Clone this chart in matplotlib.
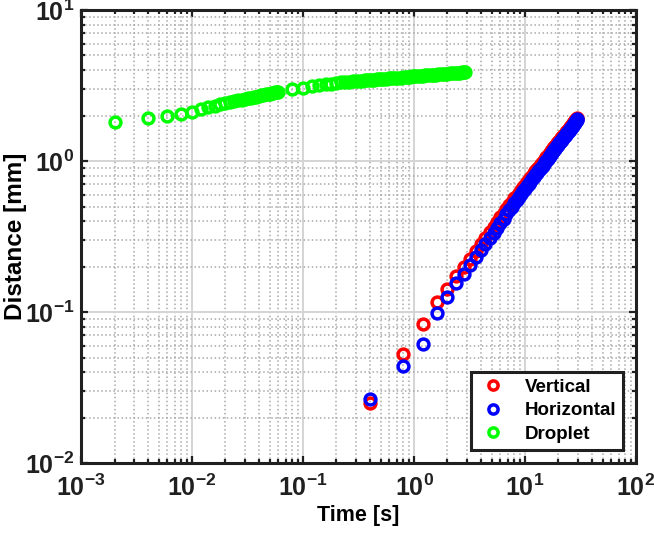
import matplotlib
matplotlib.use('Agg')
import matplotlib.pyplot as plt
import numpy as np

plt.rcParams['font.family'] = ['Liberation Sans', 'DejaVu Sans']
plt.rcParams['font.weight'] = 'bold'
plt.rcParams['mathtext.fontset'] = 'custom'
plt.rcParams['mathtext.rm'] = 'Liberation Sans:bold'
plt.rcParams['mathtext.it'] = 'Liberation Sans:bold'
plt.rcParams['mathtext.bf'] = 'Liberation Sans:bold'

# vertical / horizontal travel, sampled every 0.4 s
t_vh = [0.4, 0.8, 1.2, 1.6, 2.0, 2.4, 2.8, 3.2, 3.6, 4.0, 4.4, 4.8, 5.2, 5.6, 6.0,
        6.4, 6.8, 7.2, 7.6, 8.0, 8.4, 8.8, 9.2, 9.6, 10.0, 10.4, 10.8, 11.2, 11.6,
        12.0, 12.4, 12.8, 13.2, 13.6, 14.0, 14.4, 14.8, 15.2, 15.6, 16.0, 16.4,
        16.8, 17.2, 17.6, 18.0, 18.4, 18.8, 19.2, 19.6, 20.0, 20.4, 20.8, 21.2,
        21.6, 22.0, 22.4, 22.8, 23.2, 23.6, 24.0, 24.4, 24.8, 25.2, 25.6, 26.0,
        26.4, 26.8, 27.2, 27.6, 28.0, 28.4, 28.8, 29.2, 29.6]
vertical = [0.025, 0.053, 0.084, 0.116, 0.142, 0.173, 0.199, 0.226, 0.253, 0.281,
            0.309, 0.338, 0.367, 0.396, 0.425, 0.453, 0.481, 0.509, 0.537, 0.565,
            0.591, 0.618, 0.644, 0.671, 0.697, 0.723, 0.749, 0.775, 0.801, 0.827,
            0.853, 0.879, 0.905, 0.930, 0.956, 0.982, 1.007, 1.033, 1.058, 1.084,
            1.109, 1.135, 1.160, 1.185, 1.211, 1.236, 1.261, 1.286, 1.312, 1.337,
            1.362, 1.387, 1.412, 1.437, 1.462, 1.487, 1.512, 1.537, 1.562, 1.587,
            1.612, 1.636, 1.661, 1.686, 1.711, 1.736, 1.760, 1.785, 1.809, 1.834,
            1.859, 1.883, 1.908, 1.932]
horizontal = [0.0265, 0.044, 0.061, 0.099, 0.126, 0.156, 0.180, 0.205, 0.230, 0.256,
              0.282, 0.308, 0.335, 0.362, 0.389, 0.416, 0.443, 0.471, 0.499, 0.527,
              0.553, 0.579, 0.603, 0.629, 0.654, 0.680, 0.705, 0.730, 0.755, 0.780,
              0.805, 0.831, 0.856, 0.881, 0.906, 0.931, 0.956, 0.981, 1.006, 1.032,
              1.057, 1.083, 1.107, 1.132, 1.158, 1.183, 1.208, 1.233, 1.260, 1.284,
              1.309, 1.334, 1.360, 1.385, 1.411, 1.436, 1.461, 1.486, 1.512, 1.538,
              1.564, 1.589, 1.614, 1.639, 1.665, 1.691, 1.716, 1.742, 1.767, 1.794,
              1.818, 1.843, 1.870, 1.895]

# droplet spreading
t_drop = [0.002, 0.004, 0.006, 0.008, 0.010, 0.012, 0.014, 0.016, 0.018, 0.020,
          0.022, 0.024, 0.026, 0.028, 0.030, 0.032, 0.034, 0.036, 0.038, 0.040,
          0.042, 0.044, 0.046, 0.048, 0.050, 0.052, 0.054, 0.056, 0.058, 0.060,
          0.08, 0.10, 0.12, 0.14, 0.16, 0.18, 0.20, 0.22, 0.24, 0.26, 0.28, 0.30,
          0.32, 0.34, 0.36, 0.38, 0.40, 0.42, 0.44, 0.46, 0.48, 0.50, 0.53, 0.56,
          0.59, 0.62, 0.65, 0.68, 0.72, 0.76, 0.80, 0.84, 0.88, 0.92, 0.96, 1.00,
          1.05, 1.10, 1.15, 1.20, 1.26, 1.32, 1.38, 1.44, 1.50, 1.58, 1.66, 1.74,
          1.82, 1.90, 2.00, 2.10, 2.20, 2.30, 2.40, 2.50, 2.60, 2.70, 2.80, 2.90]
droplet = [1.80, 1.92, 2.00, 2.05, 2.12, 2.20, 2.28, 2.33, 2.37, 2.41,
           2.45, 2.49, 2.52, 2.55, 2.58, 2.60, 2.63, 2.65, 2.67, 2.70,
           2.72, 2.74, 2.76, 2.78, 2.80, 2.81, 2.83, 2.85, 2.86, 2.88,
           2.98, 3.05, 3.12, 3.17, 3.22, 3.26, 3.30, 3.32, 3.34, 3.35, 3.37, 3.38,
           3.40, 3.41, 3.42, 3.43, 3.44, 3.45, 3.46, 3.47, 3.48, 3.49, 3.50, 3.51,
           3.52, 3.53, 3.54, 3.55, 3.56, 3.57, 3.59, 3.60, 3.61, 3.62, 3.63, 3.63,
           3.65, 3.66, 3.67, 3.68, 3.69, 3.70, 3.71, 3.72, 3.72, 3.74, 3.75, 3.76,
           3.77, 3.78, 3.79, 3.80, 3.81, 3.82, 3.83, 3.84, 3.85, 3.86, 3.87, 3.88]

fig = plt.figure(figsize=(6.54, 5.41), dpi=100)
ax = fig.add_axes([0.124, 0.144, 0.8485, 0.8375])

mk = dict(linestyle='none', marker='o', markerfacecolor='none', markersize=7.8, markeredgewidth=2.5)
ax.plot(t_vh, vertical, color='#ff0000', label='Vertical', **mk)
ax.plot(t_vh, horizontal, color='#0000ff', label='Horizontal', **mk)
ax.plot(t_drop, droplet, color='#00ff00', label='Droplet', **mk)

ax.set_xscale('log')
ax.set_yscale('log')
ax.set_xlim(1e-3, 1e2)
ax.set_ylim(1e-2, 1e1)

ax.grid(True, which='major', color='#d4d4d4', linestyle='-', linewidth=1.4)
ax.grid(True, which='minor', color='#a8a8a8', linestyle=':', linewidth=1.1)
ax.set_axisbelow(True)

for s in ax.spines.values():
    s.set_linewidth(2.2)
    s.set_color('#202020')

ax.tick_params(which='both', direction='in', top=True, right=True, width=1.6, colors='#202020')
ax.tick_params(which='major', length=5, labelsize=18)
ax.tick_params(which='minor', length=3)
ax.tick_params(axis='x', which='major', pad=8)
ax.tick_params(axis='y', which='major', pad=5)

ax.set_xlabel('Time [s]', fontsize=15.5, fontweight='bold', labelpad=3)
ax.set_ylabel('Distance [mm]', fontsize=17.5, fontweight='bold', labelpad=-2)

leg = ax.legend(loc='lower right', bbox_to_anchor=(0.976, 0.03), fontsize=13.5,
                frameon=True, fancybox=False, edgecolor='#202020', framealpha=1,
                handlelength=1.6, handletextpad=0.9, borderpad=0.35,
                labelspacing=0.35, markerscale=0.85, borderaxespad=0)
leg.get_frame().set_linewidth(2.2)

fig.savefig('out.png', dpi=100)
